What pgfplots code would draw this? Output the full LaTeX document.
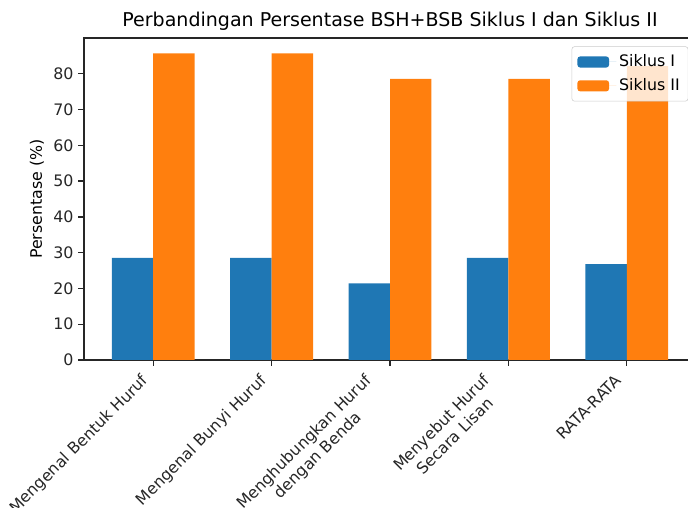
\documentclass[border=0pt]{standalone}
\usepackage{pgfplots}
\pgfplotsset{compat=1.18}
\usepackage{fontspec}
\setmainfont{DejaVu Sans}
\definecolor{tabblue}{HTML}{1F77B4}
\definecolor{taborange}{HTML}{FF7F0E}
\newcommand{\rl}[1]{\rotatebox{45}{\begin{tabular}{@{}c@{}}#1\end{tabular}}}
\begin{document}
\begin{tikzpicture}
\begin{axis}[
  at={(60.48pt,106.56pt)}, anchor=south west,
  scale only axis, width=440.64pt, height=231.84pt,
  xmin=-0.585, xmax=4.585, ymin=0, ymax=90,
  ybar, bar width=0.35,
  xtick={0,1,2,3,4},
  xticklabels={\rl{Mengenal Bentuk Huruf}, \rl{Mengenal Bunyi Huruf}, \rl{Menghubungkan Huruf\\dengan Benda}, \rl{Menyebut Huruf\\Secara Lisan}, \rl{RATA-RATA}},
  ytick={0,10,20,30,40,50,60,70,80},
  /pgf/number format/assume math mode=true,
  tick label style={font=\fontsize{11.4}{13.7}\selectfont, text=black!85},
  xticklabel style={anchor=north east, inner sep=0pt, yshift=-4.5pt},
  tick align=outside, tick pos=left,
  major tick length=4pt,
  every tick/.style={black!85, line width=0.9pt},
  axis line style={black!85, line width=0.9pt},
  ylabel={Persentase (\%)},
  ylabel style={font=\fontsize{11.4}{13}\selectfont, xshift=0pt},
  title={Perbandingan Persentase BSH+BSB Siklus I dan Siklus II},
  title style={font=\fontsize{13.7}{16}\selectfont, yshift=-4pt},
  legend cell align=left,
  legend style={at={(1,1)}, anchor=north east, xshift=-5.5pt, yshift=-6pt,
    draw=black!20, rounded corners=2pt, fill=white, fill opacity=0.8, text opacity=1,
    font=\fontsize{11.4}{13}\selectfont, inner sep=4pt, row sep=3pt},
  legend image code/.code={\fill[#1, fill opacity=1] (0pt,-4pt) rectangle (22.8pt,4pt); \path (0pt,0pt) -- (28pt,0pt);},
]
\addplot[fill=tabblue, draw=none, bar shift=-0.175] coordinates {(0,28.57) (1,28.57) (2,21.43) (3,28.57) (4,26.79)};
\addlegendentry{Siklus I}
\addplot[fill=taborange, draw=none, bar shift=0.175] coordinates {(0,85.71) (1,85.71) (2,78.57) (3,78.57) (4,82.14)};
\addlegendentry{Siklus II}
\end{axis}
\pgfresetboundingbox
\useasboundingbox (0,0) rectangle (495.36pt,365.76pt);
\end{tikzpicture}
\end{document}
